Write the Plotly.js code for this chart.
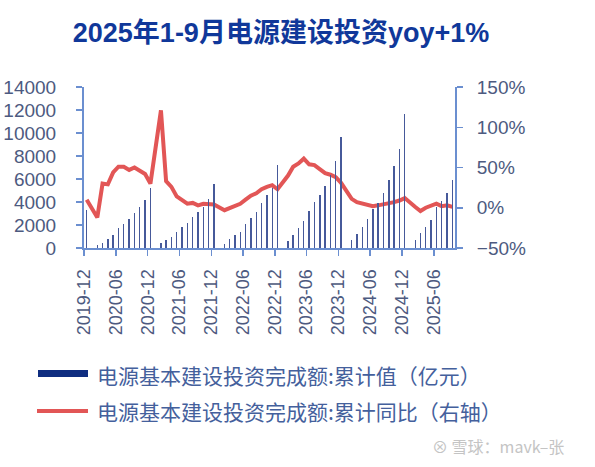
<!DOCTYPE html>
<html>
<head>
<meta charset="utf-8">
<script src="https://cdn.plot.ly/plotly-3.0.1.min.js"></script>
<style>html,body{margin:0;padding:0;background:#fff;}#chart{width:595px;height:467px;}</style>
</head>
<body>
<div id="chart"></div>
<script>
// Months with data (NBS publishes Jan-Feb combined, so January is absent)
const months = [
  "2019-12",
  "2020-02","2020-03","2020-04","2020-05","2020-06","2020-07","2020-08","2020-09","2020-10","2020-11","2020-12",
  "2021-02","2021-03","2021-04","2021-05","2021-06","2021-07","2021-08","2021-09","2021-10","2021-11","2021-12",
  "2022-02","2022-03","2022-04","2022-05","2022-06","2022-07","2022-08","2022-09","2022-10","2022-11","2022-12",
  "2023-02","2023-03","2023-04","2023-05","2023-06","2023-07","2023-08","2023-09","2023-10","2023-11","2023-12",
  "2024-02","2024-03","2024-04","2024-05","2024-06","2024-07","2024-08","2024-09","2024-10","2024-11","2024-12",
  "2025-02","2025-03","2025-04","2025-05","2025-06","2025-07","2025-08","2025-09"
];
// 电源基本建设投资完成额:累计值（亿元）
const cumValue = [
  3283,
  250, 460, 750, 1130, 1710, 2090, 2490, 3010, 3530, 4170, 5244,
  400, 700, 990, 1420, 1860, 2150, 2730, 3160, 3600, 4230, 5530,
  380, 750, 1160, 1360, 2120, 2600, 3160, 3910, 4570, 5250, 7208,
  640, 1130, 1750, 2330, 3230, 4010, 4610, 5400, 6380, 7590, 9675,
  700, 1250, 1830, 2490, 3360, 3950, 4810, 5880, 7160, 8580, 11687,
  700, 1280, 1810, 2440, 3600, 4050, 4810, 5910
];
// 电源基本建设投资完成额:累计同比（%，右轴）
const cumYoy = [
  10,
  -12, 30, 29, 44, 51, 51, 47, 50, 46, 42, 30,
  121, 33, 26, 14, 9, 5, 6, 3, 5, 4, 4,
  -3, 0, 2, 5, 10, 15, 18, 23, 26, 28, 23,
  40, 51, 55, 61, 54, 53, 48, 43, 41, 38, 31,
  11, 7, 5, 3, 2, 3, 4, 5, 7, 9, 12,
  1, -4, 0, 2, 5, 2, 3, 1
];
const seriesNames = ["电源基本建设投资完成额:累计值（亿元）", "电源基本建设投资完成额:累计同比（右轴）"];
const titleText = "2025年1-9月电源建设投资yoy+1%";
const watermark = "雪球：mavk–张";

const axisColor = "#6b8fd0";
const tickFontColor = "#4d5a80";
const barColor = "#46599a";
const lineColor = "#e25656";
const DAY = 86400000;

const traces = [
  {
    type: "scatter", mode: "lines", name: seriesNames[1],
    x: months, y: cumYoy, xperiod: "M1", xperiodalignment: "middle",
    line: {color: lineColor, width: 4}, yaxis: "y", hoverinfo: "x+y"
  },
  {
    type: "bar", name: seriesNames[0],
    x: months, y: cumValue, xperiod: "M1", xperiodalignment: "middle",
    width: 8 * DAY, marker: {color: barColor}, yaxis: "y2"
  }
];

const tickFont = {family: "Liberation Sans, Arial, sans-serif", size: 19, color: tickFontColor};

// paper coordinate helpers for legend decoration (plot area 84..455 x 87..248 px)
const L = 84, R = 455, T = 87, B = 248;
const px = v => (v - L) / (R - L);
const py = v => (B - v) / (B - T);

const layout = {
  width: 595, height: 467,
  margin: {l: L, r: 595 - R, t: T, b: 467 - B, pad: 0},
  paper_bgcolor: "#ffffff", plot_bgcolor: "#ffffff",
  showlegend: false,
  bargap: 0,
  title: {
    text: "<b>" + titleText + "</b>",
    font: {family: "Liberation Sans, Noto Sans CJK SC, sans-serif", size: 27, color: "#10389a"},
    x: 281 / 595, xref: "container", xanchor: "center",
    y: 1 - 33 / 467, yref: "container", yanchor: "middle"
  },
  xaxis: {
    type: "date", range: ["2019-12-01", "2025-10-01"],
    tick0: "2019-12-01", dtick: "M6", tickformat: "%Y-%m", tickangle: -90,
    ticks: "outside", ticklen: 6, tickwidth: 1.5, tickcolor: axisColor,
    showline: true, linecolor: axisColor, linewidth: 2,
    showgrid: false, zeroline: false, ticklabelstandoff: 6,
    tickfont: {family: "Liberation Sans, Arial, sans-serif", size: 18, color: tickFontColor}
  },
  yaxis: {
    side: "right", range: [-50, 150], dtick: 50, ticksuffix: "%",
    ticks: "outside", ticklen: 6, tickwidth: 1.5, tickcolor: axisColor,
    showline: true, linecolor: axisColor, linewidth: 2,
    showgrid: false, zeroline: false, ticklabelstandoff: 10,
    tickfont: tickFont
  },
  yaxis2: {
    overlaying: "y", side: "left", anchor: "x",
    range: [0, 14000], dtick: 2000, tickformat: "d",
    ticks: "outside", ticklen: 6, tickwidth: 1.5, tickcolor: axisColor,
    showline: true, linecolor: axisColor, linewidth: 2,
    showgrid: false, zeroline: false, ticklabelstandoff: 16,
    tickfont: tickFont
  },
  shapes: [
    {type: "rect", xref: "paper", yref: "paper", x0: px(38), x1: px(88), y0: py(377), y1: py(370),
     fillcolor: "#0f2d80", line: {width: 0}},
    {type: "line", xref: "paper", yref: "paper", x0: px(37), x1: px(88), y0: py(411), y1: py(411),
     line: {color: lineColor, width: 4}}
  ],
  annotations: [
    {xref: "paper", yref: "paper", x: px(95), y: py(375), xanchor: "left", yanchor: "middle",
     text: seriesNames[0], showarrow: false,
     font: {family: "Noto Sans CJK SC, sans-serif", size: 21, color: "#44609c"}},
    {xref: "paper", yref: "paper", x: px(95), y: py(411), xanchor: "left", yanchor: "middle",
     text: seriesNames[1], showarrow: false,
     font: {family: "Noto Sans CJK SC, sans-serif", size: 21, color: "#44609c"}},
    {xref: "paper", yref: "paper", x: px(430), y: py(446), xanchor: "left", yanchor: "middle",
     text: "⊗ " + watermark, showarrow: false,
     font: {family: "Noto Sans CJK SC, sans-serif", size: 16, color: "#c4c4c4"}}
  ]
};

Plotly.newPlot("chart", traces, layout, {displayModeBar: false, staticPlot: true});
</script>
</body>
</html>
